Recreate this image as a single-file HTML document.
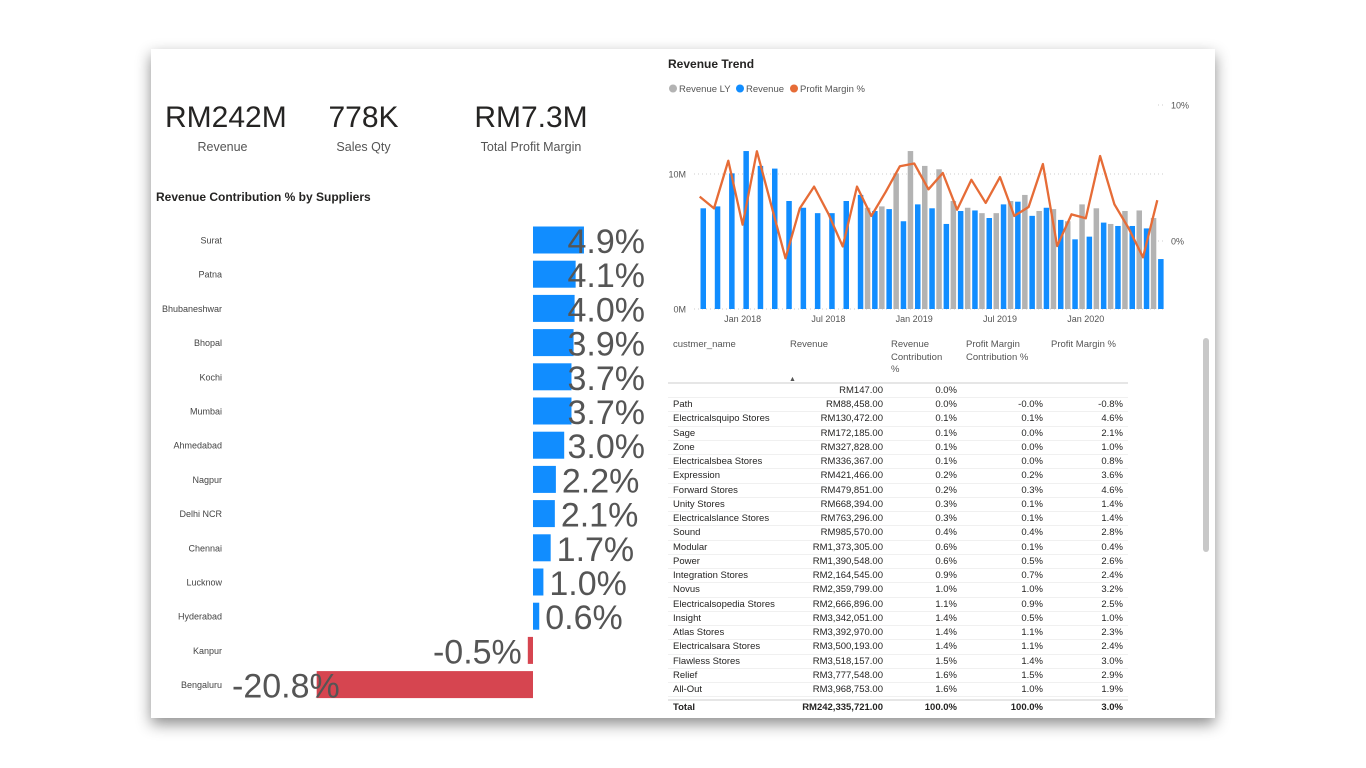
<!DOCTYPE html>
<html><head><meta charset="utf-8"><style>
body{margin:0;width:1366px;height:768px;background:#fff;overflow:hidden;font-family:"Liberation Sans",sans-serif;position:relative}
#card{position:absolute;left:151px;top:49px;width:1064px;height:669px;background:#fff;box-shadow:0 6px 14px rgba(0,0,0,.45)}
.abs{position:absolute}
.kpi{position:absolute;text-align:center;color:#252423}
.kpi .v{font-size:30px;line-height:36px}
.kpi .l{font-size:12.5px;color:#555;margin-top:4px}
.row{position:absolute;left:668px;width:460px;height:14.24px;font-size:9.5px;color:#252423;border-bottom:1px solid #f0f0f0;box-sizing:border-box}
.row span{position:absolute;top:1px;white-space:nowrap}
.hd{position:absolute;font-size:9.5px;color:#555;line-height:12.5px}
</style></head><body>
<div id="card">
 <div class="kpi" style="left:14px;top:51px;width:115px"><div class="v">RM242M</div><div class="l">Revenue</div></div>
 <div class="kpi" style="left:155px;top:51px;width:115px"><div class="v">778K</div><div class="l">Sales Qty</div></div>
 <div class="kpi" style="left:300px;top:51px;width:160px"><div class="v">RM7.3M</div><div class="l">Total Profit Margin</div></div>
 <div class="abs" style="left:5px;top:141px;font-size:12px;font-weight:bold;color:#252423">Revenue Contribution % by Suppliers</div>
 <div class="abs" style="left:517px;top:8px;font-size:12px;font-weight:bold;color:#252423">Revenue Trend</div>
 <div class="abs" style="left:1052px;top:289px;width:6px;height:214px;background:#c8c8c8;border-radius:3px"></div>
</div>
<svg id="bars" class="abs" style="left:0;top:0" width="1366" height="768"></svg>
<svg id="trend" class="abs" style="left:0;top:0" width="1366" height="768"></svg>
<div id="tbl">
 <div class="hd" style="left:673px;top:339px">custmer_name</div>
 <div class="hd" style="left:790px;top:339px">Revenue</div>
 <div class="hd" style="left:789px;top:374px;font-size:7px">▲</div>
 <div class="hd" style="left:891px;top:339px;width:58px">Revenue Contribution %</div>
 <div class="hd" style="left:966px;top:339px;width:84px">Profit Margin Contribution %</div>
 <div class="hd" style="left:1051px;top:339px">Profit Margin %</div>
 <div class="abs" style="left:668px;top:382px;width:460px;height:2px;background:#e6e6e6"></div>
 <div class="abs" style="left:668px;top:699px;width:460px;height:2px;background:#e6e6e6"></div>
 <div class="row" style="top:701px;height:15px;font-weight:bold;border:none"><span style="left:5px">Total</span><span style="right:245px">RM242,335,721.00</span><span style="right:171px">100.0%</span><span style="right:85px">100.0%</span><span style="right:5px">3.0%</span></div>
</div>
<script>
const NS="http://www.w3.org/2000/svg";
function mk(p,t,a){const e=document.createElementNS(NS,t);for(const k in a)e.setAttribute(k,a[k]);p.appendChild(e);return e;}
// Supplier chart data
const suppliers=["Surat","Patna","Bhubaneshwar","Bhopal","Kochi","Mumbai","Ahmedabad","Nagpur","Delhi NCR","Chennai","Lucknow","Hyderabad","Kanpur","Bengaluru"];
const contrib=[4.9,4.1,4.0,3.9,3.7,3.7,3.0,2.2,2.1,1.7,1.0,0.6,-0.5,-20.8];
// Trend data (Oct 2017 - Jun 2020)
const revenue=[7.46,7.6,10.05,11.7,10.6,10.4,8.0,7.5,7.1,7.1,8.0,8.45,7.26,7.4,6.5,7.75,7.46,6.3,7.26,7.3,6.74,7.75,7.95,6.9,7.5,6.6,5.16,5.36,6.4,6.15,6.15,5.97,3.7];
const revenueLY=[0,0,0,0,0,0,0,0,0,0,0,0,7.5,7.6,10.05,11.7,10.6,10.35,8.0,7.5,7.1,7.1,8.0,8.45,7.26,7.4,6.5,7.75,7.46,6.3,7.26,7.3,6.74];
const margin=[3.26,2.4,5.9,1.2,6.6,2.65,-1.27,2.4,4.0,2.0,-0.4,4.0,1.84,3.6,5.5,5.7,3.8,5.0,2.3,4.5,2.8,4.7,1.84,2.5,5.66,-0.37,1.96,1.67,6.25,2.7,0.93,-1.2,3.0];
const xTickLabels=["Jan 2018","Jul 2018","Jan 2019","Jul 2019","Jan 2020"];
const xTickIdx=[3,9,15,21,27];
const yTicks=[0,10];const y2Ticks=[0,10];
// Table data
const rows=[["","RM147.00","0.0%","",""],["Path","RM88,458.00","0.0%","-0.0%","-0.8%"],["Electricalsquipo Stores","RM130,472.00","0.1%","0.1%","4.6%"],["Sage","RM172,185.00","0.1%","0.0%","2.1%"],["Zone","RM327,828.00","0.1%","0.0%","1.0%"],["Electricalsbea Stores","RM336,367.00","0.1%","0.0%","0.8%"],["Expression","RM421,466.00","0.2%","0.2%","3.6%"],["Forward Stores","RM479,851.00","0.2%","0.3%","4.6%"],["Unity Stores","RM668,394.00","0.3%","0.1%","1.4%"],["Electricalslance Stores","RM763,296.00","0.3%","0.1%","1.4%"],["Sound","RM985,570.00","0.4%","0.4%","2.8%"],["Modular","RM1,373,305.00","0.6%","0.1%","0.4%"],["Power","RM1,390,548.00","0.6%","0.5%","2.6%"],["Integration Stores","RM2,164,545.00","0.9%","0.7%","2.4%"],["Novus","RM2,359,799.00","1.0%","1.0%","3.2%"],["Electricalsopedia Stores","RM2,666,896.00","1.1%","0.9%","2.5%"],["Insight","RM3,342,051.00","1.4%","0.5%","1.0%"],["Atlas Stores","RM3,392,970.00","1.4%","1.1%","2.3%"],["Electricalsara Stores","RM3,500,193.00","1.4%","1.1%","2.4%"],["Flawless Stores","RM3,518,157.00","1.5%","1.4%","3.0%"],["Relief","RM3,777,548.00","1.6%","1.5%","2.9%"],["All-Out","RM3,968,753.00","1.6%","1.0%","1.9%"]];

// Supplier bars
const bs=document.getElementById('bars');
const x0=533,pxPer=10.4,rowY=v=>240+v*34.2;
const xB=v=>x0+v*pxPer;
suppliers.forEach((s,i)=>{
 const v=contrib[i],cy=rowY(i);
 const l=mk(bs,'text',{x:222,y:cy+3.5,'text-anchor':'end','font-size':9,fill:'#444'});l.textContent=s;
 
 
 const xe=xB(v);
 const r=mk(bs,'rect',{x:Math.min(x0,xe),y:cy-13.5,width:Math.abs(xe-x0),height:27,fill:v>=0?'#118DFF':'#D64550'});
 
 
 const t=mk(bs,'text',{x:0,y:cy+13,'font-size':34,fill:'#555'});t.textContent=v.toFixed(1)+'%';
 
 
 const w=t.getComputedTextLength();
 if(v>=0){t.setAttribute('x',Math.min(xe+6,645-w));}
 else{t.setAttribute('x',Math.max(xe-6-w,232));}
});

// Trend chart
const tr=document.getElementById('trend');
const yM=v=>309-v*13.5, yP=v=>241-v*13.6, xc=i=>699.7+i*14.3;
[["#B3B3B3","Revenue LY",669],["#118DFF","Revenue",736],["#E66C37","Profit Margin %",790]].forEach(([c,t,x])=>{
 const g=mk(tr,'g',{});
 
 
 mk(g,'circle',{cx:x+4,cy:88.5,r:4,fill:c});
 const tx=mk(g,'text',{x:x+10,y:92,'font-size':9.5,fill:'#555'});tx.textContent=t;
});
yTicks.forEach(v=>{const y=yM(v);mk(tr,'line',{x1:694,x2:1165,y1:y,y2:y,stroke:'#ccc','stroke-dasharray':'1 3'});
 const t=mk(tr,'text',{x:686,y:y+3.5,'text-anchor':'end','font-size':9,fill:'#555'});t.textContent=v+'M';
 
 });
y2Ticks.forEach(v=>{const y=yP(v);mk(tr,'line',{x1:1158,x2:1166,y1:y,y2:y,stroke:'#ccc','stroke-dasharray':'1 3'});
 const t=mk(tr,'text',{x:1171,y:y+3.5,'font-size':9,fill:'#555'});t.textContent=v+'%';
 
 });
xTickIdx.forEach((ix,k)=>{const t=mk(tr,'text',{x:xc(ix),y:322,'text-anchor':'middle','font-size':9,fill:'#555'});t.textContent=xTickLabels[k];
 
 });
revenue.forEach((v,i)=>{
 if(revenueLY[i]>0){const r=mk(tr,'rect',{x:xc(i)-6.5,y:yM(revenueLY[i]),width:5.5,height:yM(0)-yM(revenueLY[i]),fill:'#B3B3B3'});
  
  }
 const r=mk(tr,'rect',{x:xc(i)+0.8,y:yM(v),width:5.5,height:yM(0)-yM(v),fill:'#118DFF'});
 
 
});
const pl=mk(tr,'polyline',{points:margin.map((v,i)=>xc(i)+','+yP(v)).join(' '),fill:'none',stroke:'#E66C37','stroke-width':2.3,'stroke-linejoin':'round'});



// Table rows
const tb=document.getElementById('tbl');
const colRight=[null,245,171,85,5];
rows.forEach((r,i)=>{const d=document.createElement('div');
 d.className='row';d.style.top=(384+i*14.24)+'px';
 
 
 r.forEach((c,j)=>{const s=document.createElement('span');s.textContent=c;
  if(j===0)s.style.left='5px';else s.style.right=colRight[j]+'px';d.appendChild(s);});
 tb.appendChild(d);});
</script>
</body></html>
